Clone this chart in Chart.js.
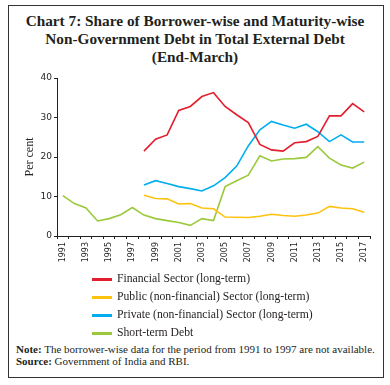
<!DOCTYPE html>
<html>
<head>
<meta charset="utf-8">
<script src="https://cdn.jsdelivr.net/npm/chart.js@4"></script>
<style>
  html, body { margin: 0; padding: 0; background: #fff; }
  body { width: 390px; height: 385px; position: relative; overflow: hidden; color: #231f20; }
  .frame { position: absolute; left: 8px; top: 5px; width: 374px; height: 371px; border: 1px solid #333; }
  .title { position: absolute; left: 0; top: 12px; width: 390px; text-align: center;
           font: bold 15.3px/18px "Liberation Serif", serif; }
  #chart { position: absolute; left: 0; top: 0; }
  .legend { position: absolute; left: 92px; top: 270px; font: 11.7px/18px "Liberation Serif", serif; }
  .legend div { position: relative; padding-left: 25px; height: 18px; }
  .legend span { position: absolute; left: 0; top: 8px; width: 20px; height: 2.5px; }
  .note { position: absolute; left: 16px; top: 344px; font: 11px/11.5px "Liberation Serif", serif; white-space: nowrap; }
</style>
</head>
<body>
<div class="frame"></div>
<div class="title">Chart 7: Share of Borrower-wise and Maturity-wise<br>Non-Government Debt in Total External Debt<br>(End-March)</div>
<canvas id="chart" width="390" height="275"></canvas>
<div class="legend" id="legend"></div>
<div class="note"><b>Note:</b> The borrower-wise data for the period from 1991 to 1997 are not available.<br><b>Source:</b> Government of India and RBI.</div>
<script>
const years = ['1991','1992','1993','1994','1995','1996','1997','1998','1999','2000','2001','2002','2003','2004',
               '2005','2006','2007','2008','2009','2010','2011','2012','2013','2014','2015','2016','2017'];

const financial = [null,null,null,null,null,null,null,
  21.5,24.5,25.6,31.8,32.8,35.3,36.3,32.8,30.7,28.7,23.2,21.8,21.5,23.6,23.9,25.2,30.4,30.4,33.5,31.4];
const publicSector = [null,null,null,null,null,null,null,
  10.3,9.5,9.4,8.1,8.2,7.1,6.9,4.8,4.75,4.7,5.0,5.5,5.2,5.0,5.3,5.8,7.5,7.1,6.9,6.0];
const privateSector = [null,null,null,null,null,null,null,
  12.9,14.0,13.3,12.5,12.0,11.4,12.7,14.8,17.7,22.8,26.9,29.0,28.1,27.3,28.3,26.4,23.9,25.6,23.8,23.8];
const shortTerm = [10.2,8.2,7.1,3.8,4.4,5.4,7.2,5.3,4.4,3.9,3.4,2.7,4.4,3.9,
  12.5,14.0,15.4,20.3,19.0,19.5,19.6,19.9,22.6,19.7,18.0,17.2,18.7];

const seriesNames = ['Financial Sector (long-term)', 'Public (non-financial) Sector (long-term)',
                     'Private (non-financial) Sector (long-term)', 'Short-term Debt'];
const seriesColors = ['#e31e2d', '#ffc20e', '#00aeef', '#9bc93c'];
const seriesData = [financial, publicSector, privateSector, shortTerm];

const axisColor = '#231f20';

const datasets = [];
for (let i = 0; i < seriesData.length; i++) {
    datasets.push({
        label: seriesNames[i],
        data: seriesData[i],
        borderColor: seriesColors[i],
        backgroundColor: seriesColors[i],
        borderWidth: 1.6,
        tension: 0,
        pointRadius: 0,
        fill: false,
    });
}

// legend as html, below the chart
const legendBox = document.getElementById('legend');
seriesNames.forEach(function (name, i) {
    const row = document.createElement('div');
    row.innerHTML = '<span style="background:' + seriesColors[i] + '"></span>' + name;
    legendBox.appendChild(row);
});

new Chart(document.getElementById('chart').getContext('2d'), {
    type: 'line',
    data: { labels: years, datasets: datasets },
    options: {
        responsive: false,
        animation: false,
        devicePixelRatio: 1,
        layout: { padding: { top: 78, right: 20, left: 0, bottom: 0 } },
        plugins: { legend: { display: false }, tooltip: { enabled: false } },
        scales: {
            x: {
                offset: true,
                afterFit: function (scale) { scale.height = 39; },
                grid: { offset: true, drawOnChartArea: false, tickLength: 3, color: axisColor },
                border: { color: axisColor, width: 1 },
                ticks: {
                    autoSkip: false,
                    maxRotation: 90,
                    minRotation: 90,
                    padding: 3,
                    color: axisColor,
                    font: { family: 'DejaVu Sans', size: 8 },
                    callback: function (value, index) {
                        return index % 2 === 0 ? this.getLabelForValue(value) : '';
                    }
                }
            },
            y: {
                min: 0,
                max: 40,
                afterFit: function (scale) { scale.width = 57; },
                grid: { drawOnChartArea: false, tickLength: 3, color: axisColor },
                border: { color: axisColor, width: 1 },
                ticks: {
                    stepSize: 10,
                    padding: 2,
                    color: axisColor,
                    font: { family: 'DejaVu Sans', size: 9 }
                },
                title: {
                    display: true,
                    text: 'Per cent',
                    color: axisColor,
                    padding: { top: 23, bottom: 0 },
                    font: { family: 'Liberation Serif', size: 12 }
                }
            }
        }
    }
});
</script>
</body>
</html>
